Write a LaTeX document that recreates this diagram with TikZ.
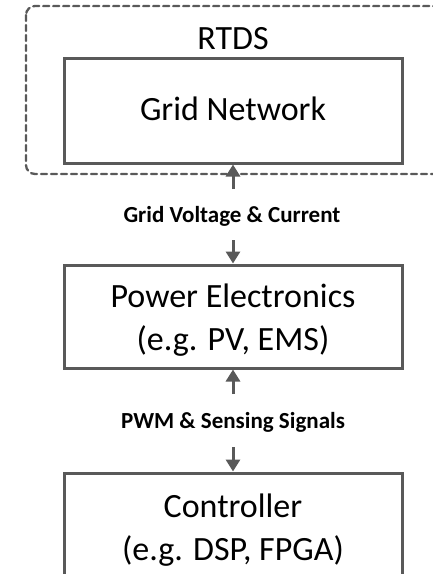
\documentclass[tikz,border=0pt]{standalone}
\usepackage{fontspec}
\setmainfont{Carlito}
\usetikzlibrary{arrows.meta}
\definecolor{bordergray}{HTML}{595959}
\begin{document}
\begin{tikzpicture}[x=1pt,y=-1pt,
  boxnode/.style={draw=bordergray, line width=3pt, inner sep=0pt, minimum width=338pt},
  bigtext/.style={anchor=base, inner sep=0pt, font=\fontsize{34}{43}\selectfont},
  lbltext/.style={anchor=base, inner sep=0pt, font=\fontsize{23}{28}\selectfont\bfseries},
  arr/.style={draw=bordergray, line width=3pt, -{Triangle[width=14pt,length=12pt]}},
  dashbox/.style={draw=bordergray, line width=2.3pt, dash pattern=on 6pt off 4pt, line cap=round, rounded corners=9pt}]
\useasboundingbox (0,0) rectangle (433,574);
\clip (0,0) rectangle (433,574);
% RTDS dashed region
\draw[dashbox] (26,6) rectangle (460,174);
\node[bigtext] (rtds) at (233,49) {RTDS};
% boxes
\node[boxnode, minimum height=105pt] (grid) at (233,110.5) {};
\node[bigtext] (gridt) at (233,120) {Grid Network};
\node[boxnode, minimum height=103pt] (pe) at (233,316.5) {};
\node[bigtext] (pet1) at (233,307) {Power Electronics};
\node[bigtext] (pet2) at (233,350) {(e.g. PV, EMS)};
\node[boxnode, minimum height=140pt] (ctrl) at (233,543) {};
\node[bigtext] (ct1) at (233,517) {Controller};
\node[bigtext] (ct2) at (233,560) {(e.g. DSP, FPGA)};
% labels
\node[lbltext] (lab1) at (232,222) {Grid Voltage \& Current};
\node[lbltext] (lab2) at (233,428) {PWM \& Sensing Signals};
% arrows
\coordinate (a1) at (233,189);
\coordinate (a2) at (233,240);
\coordinate (a3) at (233,394);
\coordinate (a4) at (233,447);
\draw[arr] (a1) -- (grid.south);
\draw[arr] (a2) -- (pe.north);
\draw[arr] (a3) -- (pe.south);
\draw[arr] (a4) -- (ctrl.north);
\end{tikzpicture}
\end{document}
